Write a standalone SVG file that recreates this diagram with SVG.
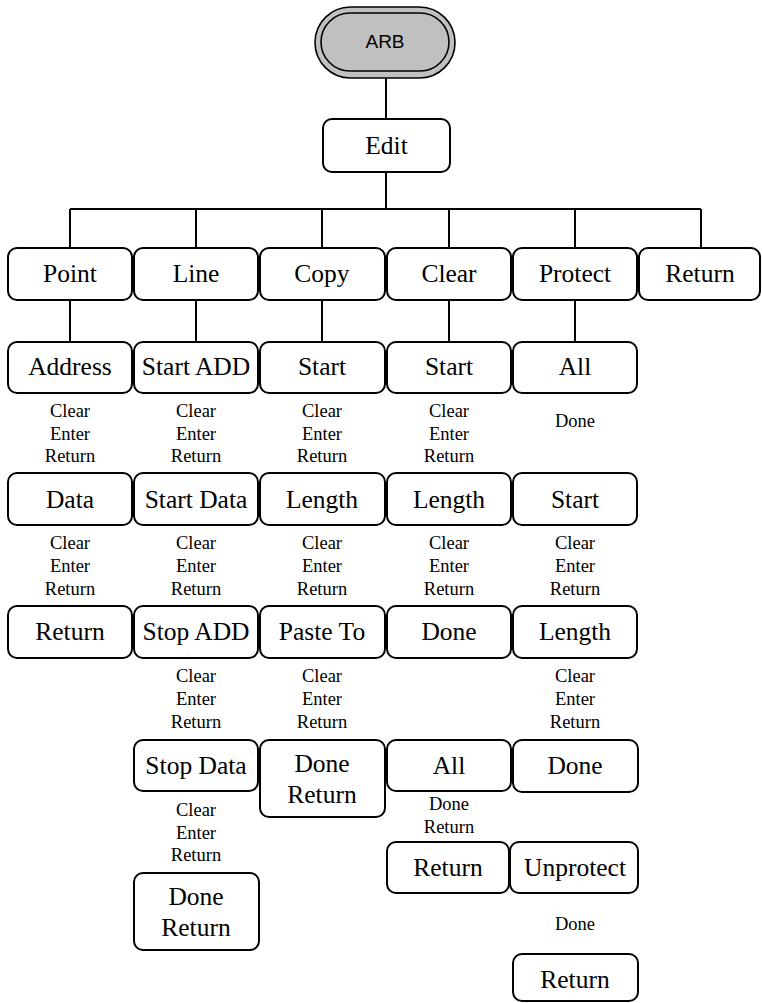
<svg xmlns="http://www.w3.org/2000/svg" width="762" height="1003" viewBox="0 0 762 1003">
<style>
.box{fill:#fff;stroke:#000;stroke-width:2}
.lbl{font-family:"Liberation Serif","Times New Roman",serif;font-size:25.5px;text-anchor:middle;fill:#000}
.sm{font-family:"Liberation Serif","Times New Roman",serif;font-size:18.5px;text-anchor:middle;fill:#000}
.con{stroke:#000;stroke-width:2;fill:none}
</style>
<rect width="762" height="1003" fill="#fff"/>
<g id="connectors">
<path class="con" d="M386 78V119M386 172V209M70 209H701M70 209V248M196 209V248M322 209V248M449 209V248M575 209V248M701 209V248M70 300V342M196 300V342M322 300V342M449 300V342M575 300V342"/>
</g>
<g id="arb">
<rect x="315" y="7" width="140" height="71" rx="35.5" fill="#c0c0c0" stroke="#000" stroke-width="1.6"/>
<rect x="321" y="13" width="128" height="58" rx="29" fill="#c0c0c0" stroke="#000" stroke-width="1.6"/>
<text x="385" y="48" font-family="'Liberation Sans',Arial,sans-serif" font-size="19" text-anchor="middle">ARB</text>
</g>
<g id="edit"><rect class="box" x="323" y="119" width="127" height="53" rx="9"/><text class="lbl" x="386.5" y="154">Edit</text></g>
<g id="point"><rect class="box" x="8" y="248" width="124" height="52" rx="9"/><text class="lbl" x="70" y="282">Point</text></g>
<g id="line"><rect class="box" x="134" y="248" width="124" height="52" rx="9"/><text class="lbl" x="196" y="282">Line</text></g>
<g id="copy"><rect class="box" x="260" y="248" width="125" height="52" rx="9"/><text class="lbl" x="322" y="282">Copy</text></g>
<g id="clear"><rect class="box" x="387" y="248" width="124" height="52" rx="9"/><text class="lbl" x="449" y="282">Clear</text></g>
<g id="protect"><rect class="box" x="513" y="248" width="124" height="52" rx="9"/><text class="lbl" x="575" y="282">Protect</text></g>
<g id="return-top"><rect class="box" x="639" y="248" width="121" height="52" rx="9"/><text class="lbl" x="700" y="282">Return</text></g>

<g id="address"><rect class="box" x="8" y="342" width="124" height="51" rx="9"/><text class="lbl" x="70" y="375">Address</text>
<text class="sm" x="70" y="417">Clear</text><text class="sm" x="70" y="439.5">Enter</text><text class="sm" x="70" y="462">Return</text></g>
<g id="start-add"><rect class="box" x="134" y="342" width="124" height="51" rx="9"/><text class="lbl" x="196" y="375">Start ADD</text>
<text class="sm" x="196" y="417">Clear</text><text class="sm" x="196" y="439.5">Enter</text><text class="sm" x="196" y="462">Return</text></g>
<g id="copy-start"><rect class="box" x="260" y="342" width="125" height="51" rx="9"/><text class="lbl" x="322" y="375">Start</text>
<text class="sm" x="322" y="417">Clear</text><text class="sm" x="322" y="439.5">Enter</text><text class="sm" x="322" y="462">Return</text></g>
<g id="clear-start"><rect class="box" x="387" y="342" width="124" height="51" rx="9"/><text class="lbl" x="449" y="375">Start</text>
<text class="sm" x="449" y="417">Clear</text><text class="sm" x="449" y="439.5">Enter</text><text class="sm" x="449" y="462">Return</text></g>
<g id="protect-all"><rect class="box" x="513" y="342" width="124" height="51" rx="9"/><text class="lbl" x="575" y="375">All</text>
<text class="sm" x="575" y="427">Done</text></g>

<g id="data"><rect class="box" x="8" y="473" width="124" height="52" rx="9"/><text class="lbl" x="70" y="508">Data</text>
<text class="sm" x="70" y="549">Clear</text><text class="sm" x="70" y="572">Enter</text><text class="sm" x="70" y="595">Return</text></g>
<g id="start-data"><rect class="box" x="134" y="473" width="124" height="52" rx="9"/><text class="lbl" x="196" y="508">Start Data</text>
<text class="sm" x="196" y="549">Clear</text><text class="sm" x="196" y="572">Enter</text><text class="sm" x="196" y="595">Return</text></g>
<g id="copy-length"><rect class="box" x="260" y="473" width="125" height="52" rx="9"/><text class="lbl" x="322" y="508">Length</text>
<text class="sm" x="322" y="549">Clear</text><text class="sm" x="322" y="572">Enter</text><text class="sm" x="322" y="595">Return</text></g>
<g id="clear-length"><rect class="box" x="387" y="473" width="124" height="52" rx="9"/><text class="lbl" x="449" y="508">Length</text>
<text class="sm" x="449" y="549">Clear</text><text class="sm" x="449" y="572">Enter</text><text class="sm" x="449" y="595">Return</text></g>
<g id="protect-start"><rect class="box" x="513" y="473" width="124" height="52" rx="9"/><text class="lbl" x="575" y="508">Start</text>
<text class="sm" x="575" y="549">Clear</text><text class="sm" x="575" y="572">Enter</text><text class="sm" x="575" y="595">Return</text></g>

<g id="point-return"><rect class="box" x="8" y="606" width="124" height="52" rx="9"/><text class="lbl" x="70" y="640">Return</text></g>
<g id="stop-add"><rect class="box" x="134" y="606" width="124" height="52" rx="9"/><text class="lbl" x="196" y="640">Stop ADD</text>
<text class="sm" x="196" y="682">Clear</text><text class="sm" x="196" y="705">Enter</text><text class="sm" x="196" y="728">Return</text></g>
<g id="paste-to"><rect class="box" x="260" y="606" width="125" height="52" rx="9"/><text class="lbl" x="322" y="640">Paste To</text>
<text class="sm" x="322" y="682">Clear</text><text class="sm" x="322" y="705">Enter</text><text class="sm" x="322" y="728">Return</text></g>
<g id="clear-done"><rect class="box" x="387" y="606" width="124" height="52" rx="9"/><text class="lbl" x="449" y="640">Done</text></g>
<g id="protect-length"><rect class="box" x="513" y="606" width="124" height="52" rx="9"/><text class="lbl" x="575" y="640">Length</text>
<text class="sm" x="575" y="682">Clear</text><text class="sm" x="575" y="705">Enter</text><text class="sm" x="575" y="728">Return</text></g>

<g id="stop-data"><rect class="box" x="134" y="740" width="124" height="51" rx="9"/><text class="lbl" x="196" y="774">Stop Data</text>
<text class="sm" x="196" y="816">Clear</text><text class="sm" x="196" y="838.5">Enter</text><text class="sm" x="196" y="861">Return</text></g>
<g id="copy-done-return"><rect class="box" x="260" y="740" width="125" height="77" rx="9"/><text class="lbl" x="322" y="772">Done</text><text class="lbl" x="322" y="803">Return</text></g>
<g id="clear-all"><rect class="box" x="387" y="740" width="124" height="51" rx="9"/><text class="lbl" x="449" y="774">All</text>
<text class="sm" x="449" y="810">Done</text><text class="sm" x="449" y="833">Return</text></g>
<g id="protect-done"><rect class="box" x="513" y="740" width="125" height="52" rx="9"/><text class="lbl" x="575" y="774">Done</text></g>

<g id="clear-return"><rect class="box" x="387" y="842" width="122" height="51" rx="9"/><text class="lbl" x="448" y="876">Return</text></g>
<g id="unprotect"><rect class="box" x="510" y="842" width="128" height="51" rx="9"/><text class="lbl" x="575" y="876">Unprotect</text>
<text class="sm" x="575" y="930">Done</text></g>
<g id="line-done-return"><rect class="box" x="134" y="873" width="125" height="77" rx="9"/><text class="lbl" x="196" y="905">Done</text><text class="lbl" x="196" y="936">Return</text></g>
<g id="protect-return"><rect class="box" x="513" y="954" width="125" height="47" rx="9"/><text class="lbl" x="575" y="988">Return</text></g>
</svg>
